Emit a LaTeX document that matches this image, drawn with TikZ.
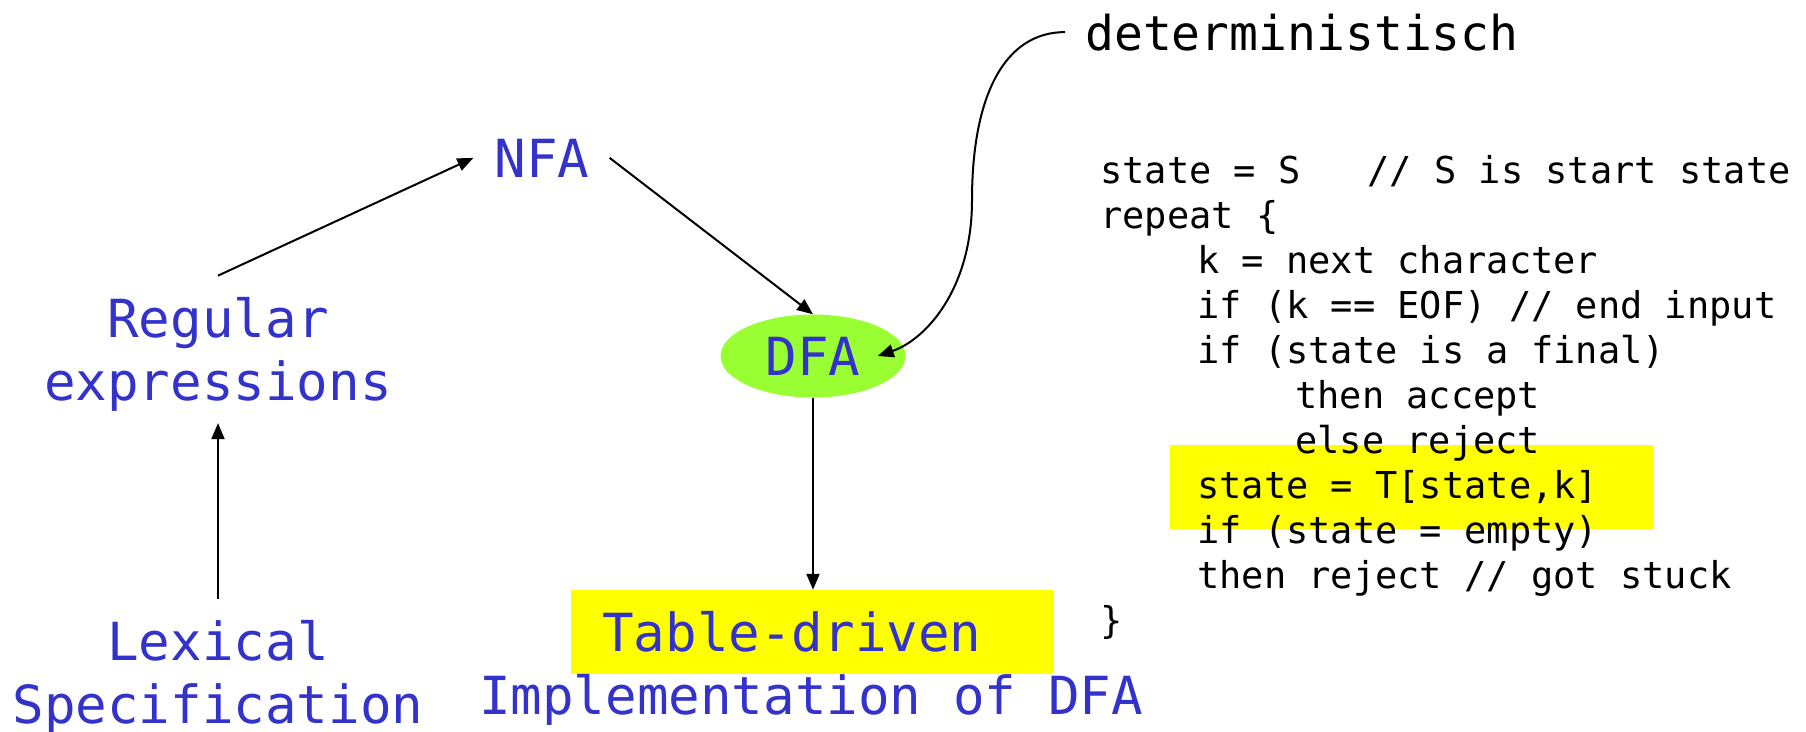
\documentclass[tikz,border=0pt]{standalone}
\usepackage{fontspec}
\newfontfamily\dvmono{DejaVu Sans Mono}
\usetikzlibrary{arrows.meta,shapes.geometric}
\definecolor{labelblue}{RGB}{51,51,204}
\definecolor{dfagreen}{RGB}{153,255,51}
\definecolor{markyellow}{RGB}{255,255,0}
\begin{document}
\begin{tikzpicture}[x=1pt,y=-1pt,
  stage/.style={text=labelblue, font=\dvmono\fontsize{52.5}{63}\selectfont, inner sep=0pt},
  codeline/.style={anchor=base west, inner sep=0pt, font=\dvmono\fontsize{37}{45}\selectfont},
  flow/.style={draw, line width=2pt, -{Triangle[length=16pt,width=13pt]}}]
\useasboundingbox (0,0) rectangle (1806,731);

% highlight behind the table lookup line
\fill[markyellow] (1170,445) rectangle (1653,529);

% pipeline stages
\node[stage, anchor=base] (nfa)  at (542,177) {NFA};
\node[stage, anchor=base] (reg1) at (218,337) {Regular};
\node[stage, anchor=base] (reg2) at (218,400) {expressions};
\node[stage, anchor=base] (lex1) at (218,660) {Lexical};
\node[stage, anchor=base] (lex2) at (218,723) {Specification};
\node[stage, ellipse, fill=dfagreen, minimum width=185pt, minimum height=83pt] (dfa) at (813,356) {DFA};
\node[stage, anchor=base west, fill=markyellow, inner xsep=31pt, inner ysep=23pt,
      text height=38pt, text depth=0pt] (tbl) at (571,651) {Table-driven\kern40pt};
\node[stage, anchor=base] (impl) at (811,714) {Implementation of DFA};

% annotation
\node[anchor=base west, inner sep=0pt, font=\dvmono\fontsize{48}{58}\selectfont] (det) at (1085,50) {deterministisch};

% driver loop
\node[codeline] (c1)  at (1100,183) {state = S\ \ \ // S is start state};
\node[codeline] (c2)  at (1100,228) {repeat \{};
\node[codeline] (c3)  at (1197,273) {k = next character};
\node[codeline] (c4)  at (1197,318) {if (k == EOF) // end input};
\node[codeline] (c5)  at (1197,363) {if (state is a final)};
\node[codeline] (c6)  at (1295,408) {then accept};
\node[codeline] (c7)  at (1295,453) {else reject};
\node[codeline] (c8)  at (1197,498) {state = T[state,k]};
\node[codeline] (c9)  at (1197,543) {if (state = empty)};
\node[codeline] (c10) at (1197,588) {then reject // got stuck};
\node[codeline] (c11) at (1100,633) {\}};

% connectors
\draw[flow] ([yshift=21pt]lex1.north) -- ([yshift=-12pt]reg2.south);
\draw[flow] ([yshift=21pt]reg1.north) -- ([xshift=-21pt]nfa.west);
\draw[flow] ([xshift=20pt]nfa.east) -- (dfa.north);
\draw[flow] (dfa.south) -- (dfa.south |- tbl.north);
\draw[flow] ([xshift=-20pt]det.west) .. controls (1005,32) and (972,95) .. (972,200)
            .. controls (972,290) and (925,340) .. ([xshift=-28pt]dfa.east);
\end{tikzpicture}
\end{document}
